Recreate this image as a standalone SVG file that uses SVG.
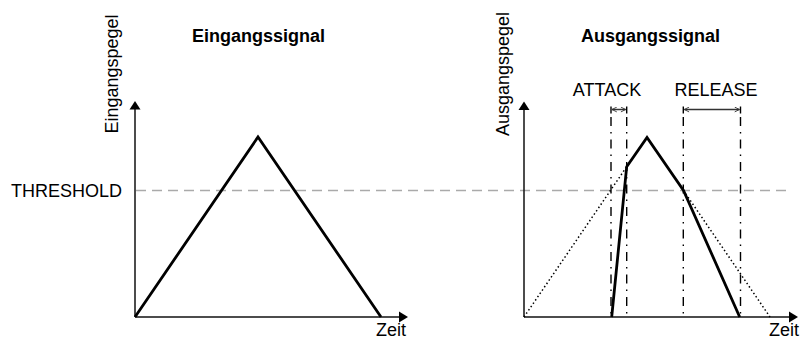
<svg xmlns="http://www.w3.org/2000/svg" width="801" height="340" viewBox="0 0 801 340">
<style>
text{font-family:"Liberation Sans",Arial,sans-serif;font-size:18px;fill:#000}
.title{font-weight:bold}
.axis{stroke:#111;stroke-width:1.5;fill:none}
.head{fill:#000}
.sig{stroke:#000;stroke-width:2.8;fill:none;stroke-linejoin:miter}
.dot{stroke:#000;stroke-width:1.5;fill:none;stroke-dasharray:1.5 2.5}
.thr{stroke:#aaa;stroke-width:1.5;stroke-dasharray:10 6;fill:none}
.dd{stroke:#000;stroke-width:1.4;fill:none;stroke-dasharray:9 6 1.5 6}
.tick{stroke:#000;stroke-width:1.4}
.dim{stroke:#333;stroke-width:1.5;fill:none}
</style>
<defs>
<marker id="chev" viewBox="0 0 10 10" refX="9" refY="5" markerWidth="6" markerHeight="6" orient="auto-start-reverse" markerUnits="userSpaceOnUse">
<path d="M1,1 L9,5 L1,9" fill="none" stroke="#333" stroke-width="1.5"/>
</marker>
</defs>

<line class="thr" x1="136" y1="190.5" x2="789" y2="190.5"/>

<g id="left-panel">
<text class="title" x="258.5" y="41.5" text-anchor="middle">Eingangssignal</text>
<text x="117.5" y="133.5" transform="rotate(-90 117.5 133.5)">Eingangspegel</text>
<text x="122" y="196.5" text-anchor="end">THRESHOLD</text>
<text x="376" y="336">Zeit</text>
<g id="left-axes">
<line class="axis" x1="135" y1="317" x2="135" y2="108"/>
<polygon class="head" points="135,101 129.5,109.5 140.5,109.5"/>
<line class="axis" x1="135" y1="317" x2="400" y2="317"/>
<polygon class="head" points="408,317 399,311.5 399,322.5"/>
</g>
<polyline id="input-signal" class="sig" points="135,317 258,137 381,317"/>
</g>

<g id="right-panel">
<text class="title" x="650.5" y="41.5" text-anchor="middle">Ausgangssignal</text>
<text x="508.5" y="136" transform="rotate(-90 508.5 136)">Ausgangspegel</text>
<text x="769" y="336">Zeit</text>
<text x="607" y="95.5" text-anchor="middle">ATTACK</text>
<text x="716" y="95.5" text-anchor="middle">RELEASE</text>
<g id="right-axes">
<line class="axis" x1="524" y1="317" x2="524" y2="108"/>
<polygon class="head" points="524,101.5 518.5,110 529.5,110"/>
<line class="axis" x1="524" y1="317" x2="790" y2="317"/>
<polygon class="head" points="798,317 789,311.5 789,322.5"/>
</g>
<g id="original-signal">
<line class="dot" x1="524" y1="317" x2="626.7" y2="166.7"/>
<line class="dot" x1="683.5" y1="190.5" x2="770" y2="317"/>
</g>
<polyline id="output-signal" class="sig" points="611.7,317 626.7,166.7 647,137.5 683.5,190.5 739.7,317"/>
<g id="markers">
<line class="tick" x1="611" y1="106.5" x2="611" y2="113.5"/>
<line class="tick" x1="626.7" y1="106.5" x2="626.7" y2="113.5"/>
<line class="tick" x1="683.3" y1="106.5" x2="683.3" y2="113.5"/>
<line class="tick" x1="740.5" y1="106.5" x2="740.5" y2="113.5"/>
<line class="dd" x1="611" y1="117" x2="611" y2="317"/>
<line class="dd" x1="626.7" y1="117" x2="626.7" y2="317"/>
<line class="dd" x1="683.3" y1="117" x2="683.3" y2="317"/>
<line class="dd" x1="740.5" y1="117" x2="740.5" y2="317"/>
</g>
<g id="connectors">
<line class="dim" x1="612" y1="109.5" x2="625.7" y2="109.5" marker-start="url(#chev)" marker-end="url(#chev)"/>
<line class="dim" x1="684.3" y1="109.5" x2="739.5" y2="109.5" marker-start="url(#chev)" marker-end="url(#chev)"/>
</g>
</g>
</svg>
